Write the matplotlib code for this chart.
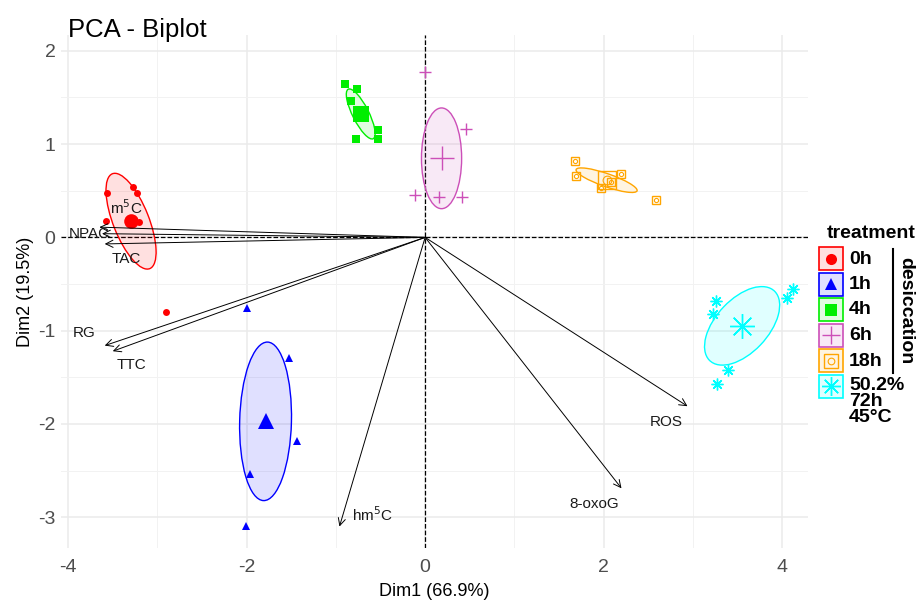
import numpy as np
import matplotlib
matplotlib.use("Agg")
import matplotlib.pyplot as plt
from matplotlib.patches import Ellipse, Rectangle

plt.rcParams["font.family"] = ["Liberation Sans", "DejaVu Sans"]
plt.rcParams["axes.unicode_minus"] = False

# groups (treatment)
groups = ["0h", "1h", "4h", "6h", "18h", "50.2%\n72h\n45°C"]
colors = ["#FF0000", "#0000FF", "#00EE00", "#CC4FB8", "#FFA500", "#00FFFF"]

# individual coordinates (Dim1, Dim2) per group
x_0h = [-3.57, -3.27, -3.23, -3.58, -3.31, -3.21, -3.29, -2.90]
y_0h = [0.48, 0.54, 0.48, 0.18, 0.18, 0.17, 0.16, -0.80]
x_1h = [-2.00, -1.53, -1.44, -1.96, -2.01]
y_1h = [-0.76, -1.29, -2.18, -2.54, -3.09]
x_4h = [-0.90, -0.76, -0.83, -0.53, -0.53, -0.78]
y_4h = [1.64, 1.59, 1.46, 1.15, 1.05, 1.05]
x_6h = [0.00, 0.46, -0.11, 0.16, 0.41]
y_6h = [1.77, 1.16, 0.45, 0.43, 0.43]
x_18h = [1.68, 1.69, 1.97, 2.08, 2.19, 2.59]
y_18h = [0.82, 0.66, 0.53, 0.59, 0.68, 0.40]
x_72h = [3.26, 3.22, 3.39, 3.27, 4.05, 4.12]
y_72h = [-0.68, -0.82, -1.42, -1.57, -0.65, -0.55]

# confidence ellipses: semi-axes and angle (deg)
ell_a = [0.55, 0.85, 0.30, 0.54, 0.36, 0.52]
ell_b = [0.20, 0.29, 0.09, 0.225, 0.07, 0.29]
ell_angle = [112.6, 88.5, 118.0, 90.0, 161.6, 45.0]

# variables
var_names = ["m$^5$C", "NPAC", "TAC", "RG", "TTC", "hm$^5$C", "8-oxoG", "ROS"]
var_x = [-3.65, -3.62, -3.59, -3.59, -3.50, -0.96, 2.20, 2.94]
var_y = [0.11, 0.04, -0.07, -1.16, -1.22, -3.10, -2.69, -1.81]
label_x = [-3.35, -3.76, -3.35, -3.82, -3.29, -0.59, 1.89, 2.70]
label_y = [0.32, 0.04, -0.23, -1.03, -1.37, -2.97, -2.86, -1.98]

xs = [x_0h, x_1h, x_4h, x_6h, x_18h, x_72h]
ys = [y_0h, y_1h, y_4h, y_6h, y_18h, y_72h]

fig = plt.figure(figsize=(9.21, 6.02), dpi=100)
ax = fig.add_axes([61 / 921, 1 - 548 / 602, 747 / 921, 513 / 602])


def draw_marker(ax, gi, x, y, k=1.0):
    c = colors[gi]
    if gi == 0:
        ax.plot(x, y, "o", color=c, ms=5 * k, mew=0, ls="none")
    elif gi == 1:
        ax.plot(x, y, "^", color=c, ms=5.5 * k, mew=0, ls="none")
    elif gi == 2:
        ax.plot(x, y, "s", color=c, ms=5.5 * k, mew=0, ls="none")
    elif gi == 3:
        ax.plot(x, y, "+", color=c, ms=8.5 * k, mew=1.0, ls="none")
    elif gi == 4:
        ax.plot(x, y, "s", mfc="none", mec=c, ms=6 * k, mew=1.0, ls="none")
        ax.plot(x, y, "o", mfc="none", mec=c, ms=3 * k, mew=0.8, ls="none")
    else:
        ax.plot(x, y, marker=(8, 2, 0), color=c, ms=8.5 * k, mew=1.0, ls="none")


for i in range(len(groups)):
    cx, cy = np.mean(xs[i]), np.mean(ys[i])
    e = Ellipse((cx, cy), 2 * ell_a[i], 2 * ell_b[i], angle=ell_angle[i],
                facecolor=colors[i], alpha=0.12, edgecolor="none", zorder=2)
    ax.add_patch(e)
    e2 = Ellipse((cx, cy), 2 * ell_a[i], 2 * ell_b[i], angle=ell_angle[i],
                 facecolor="none", edgecolor=colors[i], lw=1.0, zorder=3)
    ax.add_patch(e2)
    draw_marker(ax, i, xs[i], ys[i])
    draw_marker(ax, i, [cx], [cy], k=2.1)

ax.axhline(0, ls="--", color="black", lw=0.9, zorder=1)
ax.axvline(0, ls="--", color="black", lw=0.9, zorder=1)

for name, vx, vy, lx, ly in zip(var_names, var_x, var_y, label_x, label_y):
    ax.annotate("", xy=(vx, vy), xytext=(0, 0),
                arrowprops=dict(arrowstyle="->", lw=0.7, color="black",
                                shrinkA=0, shrinkB=0, mutation_scale=13), zorder=4)
    ax.text(lx, ly, name, fontsize=11, ha="center", va="center", color="#1a1a1a", zorder=5)

ax.set_xlim(-4.08, 4.29)
ax.set_ylim(-3.33, 2.17)
ax.set_xticks([-4, -2, 0, 2, 4])
ax.set_yticks([-3, -2, -1, 0, 1, 2])
ax.set_xticks([-3, -1, 1, 3], minor=True)
ax.set_yticks(np.arange(-3, 2.01, 0.5), minor=True)
ax.grid(True, which="major", color="#EBEBEB", lw=1.1, zorder=0)
ax.grid(True, which="minor", color="#F2F2F2", lw=0.7, zorder=0)
ax.set_axisbelow(True)
for s in ax.spines.values():
    s.set_visible(False)
ax.tick_params(which="both", length=0, labelsize=14, labelcolor="#4D4D4D")
ax.tick_params(axis="x", pad=8)
ax.tick_params(axis="y", pad=4)
ax.set_xlabel("Dim1 (66.9%)", fontsize=13, labelpad=5)
ax.set_ylabel("Dim2 (19.5%)", fontsize=13, labelpad=3)
fig.text(68 / 921, 1 - 30 / 602, "PCA - Biplot", fontsize=18.5, ha="left", va="center")

# legend drawn in pixel space
lax = fig.add_axes([0, 0, 1, 1])
lax.set_xlim(0, 921)
lax.set_ylim(602, 0)
lax.axis("off")
lax.text(827, 234, "treatment", fontsize=14, fontweight="bold", ha="left", va="center")
for i, g in enumerate(groups):
    top = 247 + i * 25.5
    lax.add_patch(Rectangle((819, top), 24, 23, facecolor=colors[i], alpha=0.12, edgecolor="none"))
    lax.add_patch(Rectangle((819, top), 24, 23, facecolor="none", edgecolor=colors[i], lw=1.2))
    draw_marker(lax, i, [831], [top + 11.5], k=1.6)
    if i < 5:
        lax.text(849, top + 12, g, fontsize=14, fontweight="bold", ha="left", va="center")
    else:
        lax.text(849, top + 2, g, fontsize=14, fontweight="bold", ha="left", va="top",
                 linespacing=0.95)
lax.plot([893, 893], [249, 373], color="black", lw=1.5)
lax.text(906, 311, "desiccation", fontsize=14, fontweight="bold", rotation=-90,
         ha="center", va="center")

fig.savefig("out.png", dpi=100)
